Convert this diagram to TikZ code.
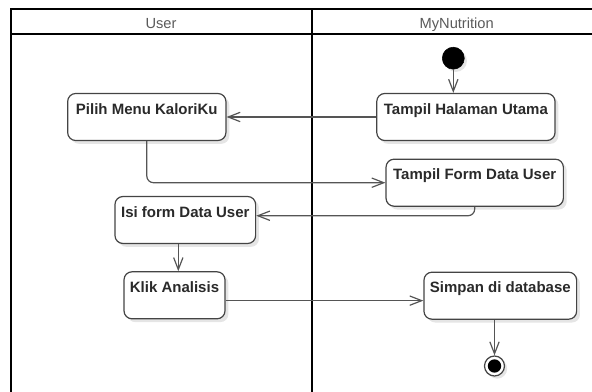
\documentclass[tikz,border=0pt]{standalone}
\usepackage{fontspec}
\setmainfont{Liberation Sans}
\usetikzlibrary{arrows.meta,shadows,calc}
\definecolor{edgec}{HTML}{555555}
\definecolor{boxc}{HTML}{444444}
\definecolor{txtc}{HTML}{2A2A2A}
\definecolor{hdrc}{HTML}{5A5A5A}
\tikzset{
  act/.style={draw=boxc, line width=0.9pt, rounded corners=6pt, fill=white,
    inner xsep=0pt, inner ysep=0pt, text height=15.4pt, text depth=19.85pt,
    font=\fontsize{11.25pt}{13pt}\selectfont\bfseries, text=txtc,
    drop shadow={shadow xshift=2.5pt, shadow yshift=-2.5pt, fill=black!10, opacity=1}},
  flow/.style={draw=edgec, line width=0.9pt, rounded corners=5pt,
    -{Straight Barb[length=9pt,width=7pt,line width=0.9pt]}},
  lane/.style={draw=black, line width=1.5pt},
  hdr/.style={anchor=base, font=\fontsize{11pt}{13pt}\selectfont, text=hdrc, inner sep=0pt},
  startnode/.style={circle, fill=black, draw=black, minimum size=16.5pt, inner sep=0pt,
    drop shadow={shadow xshift=2pt, shadow yshift=-2pt, fill=black!10, opacity=1}},
  endouter/.style={circle, fill=white, draw=boxc, line width=0.9pt, minimum size=15pt, inner sep=0pt,
    drop shadow={shadow xshift=2pt, shadow yshift=-2pt, fill=black!10, opacity=1}},
  endinner/.style={circle, fill=black, minimum size=10pt, inner sep=0pt},
}
\begin{document}
\begin{tikzpicture}[x=0.75pt, y=-0.75pt]
\useasboundingbox (0,0) rectangle (592,392);
\clip (0,0) rectangle (592,392);
% swimlane frame
\draw[lane] (11,9.2) rectangle (602,400);
\draw[lane] (11,33.7) -- (602,33.7);
\draw[lane] (311.7,9.2) -- (311.7,400);
\node[hdr] (huser) at (161,28.3) {User};
\node[hdr] (hmn) at (456.7,28.3) {MyNutrition};
% nodes
\node[startnode] (init) at (453.3,58.2) {};
\node[act, minimum width=133.7pt] (thu) at (465.9,117) {Tampil Halaman Utama};
\node[act, minimum width=118.7pt] (pmk) at (146.8,117) {Pilih Menu KaloriKu};
\node[act, minimum width=133pt] (tfd) at (474.7,182.7) {Tampil Form Data User};
\node[act, minimum width=105.5pt] (ifd) at (185.3,220) {Isi form Data User};
\node[act, minimum width=75.75pt] (ka) at (174.5,295.3) {Klik Analisis};
\node[act, minimum width=114.5pt] (sdd) at (500.3,295.7) {Simpan di database};
\node[endouter] (fin) at (494.5,366) {};
\node[endinner] (finc) at (fin.center) {};
% connectors
\draw[flow] (init.south) -- (init.south |- thu.north);
\draw[flow] (thu.west) -- (pmk.east);
\draw[flow] (pmk.south) |- (tfd.west);
\draw[flow] (tfd.south) |- ([yshift=3.2pt]ifd.east);
\draw[flow] ([xshift=-5.25pt]ifd.south) -- ([xshift=-5.25pt]ifd.south |- ka.north);
\draw[flow] ([yshift=-4pt]ka.east) -- ([yshift=-4pt]ka.east -| sdd.west);
\draw[flow] ([xshift=-4.35pt]sdd.south) -- ([xshift=-4.35pt]sdd.south |- fin.north);
\end{tikzpicture}
\end{document}
